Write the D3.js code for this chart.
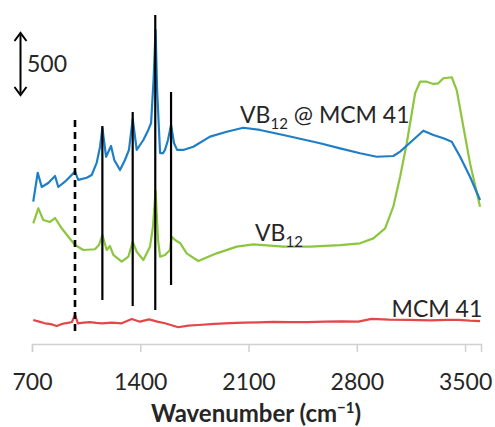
<!DOCTYPE html>
<html><head><meta charset="utf-8">
<script src="https://cdn.jsdelivr.net/npm/d3@7/dist/d3.min.js"></script>
<style>
html,body{margin:0;padding:0;background:#fff;}
svg{display:block;}
text{font-family:Lato,"Open Sans",sans-serif;fill:#262626;}
</style></head>
<body>
<script>
// ---- data (wavenumber cm^-1, intensity a.u.) ----
const blueWn = [708,737,763,805,849,870,913,978,999,1054,1086,1118,1140,1155,1179,1211,1232,1269,1301,1327,1351,1377,1420,1452,1470,1486,1499,1509,1528,1547,1560,1579,1599,1618,1638,1678,1743,1851,1959,2066,2174,2325,2498,2562,2692,2821,2929,3036,3080,3144,3230,3295,3360,3414,3468,3532,3597];
const blueVal = [1148,1381,1266,1298,1355,1266,1309,1390,1323,1341,1363,1460,1591,1742,1510,1597,1484,1403,1484,1565,1815,1565,1645,1726,1782,2129,2532,2048,1540,1540,1565,1645,1766,1621,1565,1565,1591,1672,1712,1744,1726,1685,1637,1619,1578,1538,1510,1516,1551,1623,1720,1685,1659,1631,1510,1349,1161];

const greenWn = [708,741,773,816,849,892,935,978,1032,1107,1133,1155,1183,1204,1226,1280,1323,1351,1377,1420,1463,1482,1499,1515,1528,1560,1592,1603,1625,1657,1700,1775,1894,2024,2131,2325,2498,2692,2821,2907,2983,3036,3080,3123,3177,3209,3252,3295,3327,3360,3414,3446,3489,3532,3597];
const greenVal = [973,1094,1000,984,1016,933,865,798,758,764,798,879,758,790,718,664,704,825,744,677,785,946,1234,839,704,718,758,865,839,815,731,669,731,785,804,785,785,798,812,852,933,1107,1349,1619,2022,2115,2115,2097,2102,2143,2151,2048,1752,1457,1107];

const redWn = [708,746,784,822,860,890,913,940,958,978,997,1035,1075,1115,1151,1215,1280,1345,1398,1457,1510,1560,1646,1710,1775,1880,1980,2070,2163,2260,2368,2480,2595,2700,2810,2895,3010,3133,3274,3380,3457,3530,3597];
const redVal = [194,180,167,160,145,160,167,172,177,234,167,172,177,170,167,172,167,202,180,199,180,167,135,148,153,162,169,172,175,178,177,176,180,182,180,202,196,194,190,195,194,188,185];

const markerWn   = [978, 1155, 1351, 1497, 1599];
const markerTop  = [1806, 1758, 1871, 2653, 2032];
const markerBot  = [89, 355, 306, 274, 476];
const markerDash = [true, false, false, false, false];

const xTicks = [700, 1400, 2100, 2800, 3500];
const scaleBarValue = 500;

const labels = [
  {main:"VB", sub:"12", rest:" @ MCM 41", wn:2045, v:1782},
  {main:"VB", sub:"12", rest:"", wn:2142, v:830},
  {main:"MCM 41", sub:"", rest:"", wn:3025, v:218}
];

// ---- layout ----
const W = 495, H = 427;
const svg = d3.select("body").append("svg").attr("width", W).attr("height", H);

const x = d3.scaleLinear().domain([700, 3603]).range([32, 481]);
const y = d3.scaleLinear().domain([0, 2774]).range([344, 0]);

// axis
const axis = d3.axisBottom(x).tickValues(xTicks).tickSize(8).tickPadding(22).tickFormat(d3.format("d"));
const gx = svg.append("g").attr("transform", "translate(0,344)").call(axis);
gx.select(".domain").attr("stroke", "#d0d0d0").attr("stroke-width", 1.5);
gx.selectAll(".tick line").attr("stroke", "#d0d0d0").attr("stroke-width", 1.5);
gx.selectAll(".tick text").attr("font-family", "Lato, sans-serif").attr("font-size", 23).attr("fill", "#262626");

// axis title
const title = svg.append("text").attr("x", 256).attr("y", 422).attr("text-anchor", "middle")
  .attr("font-size", 24).attr("font-weight", "bold");
title.append("tspan").text("Wavenumber (cm");
title.append("tspan").attr("font-size", 15).attr("dy", -9).text("\u22121");
title.append("tspan").attr("dy", 9).text(")");

// lines
const line = d3.line().x(d => x(d[0])).y(d => y(d[1]));
function drawSeries(wn, val, color) {
  svg.append("path").datum(wn.map((w, i) => [w, val[i]]))
    .attr("fill", "none").attr("stroke", color).attr("stroke-width", 2.2)
    .attr("stroke-linejoin", "round").attr("d", line);
}
drawSeries(redWn, redVal, "#e3474a");
drawSeries(greenWn, greenVal, "#8cc63f");
drawSeries(blueWn, blueVal, "#1f7fc6");

// marker lines
markerWn.forEach((w, i) => {
  svg.append("line").attr("x1", x(w)).attr("x2", x(w))
    .attr("y1", y(markerTop[i])).attr("y2", y(markerBot[i]))
    .attr("stroke", "#000").attr("stroke-width", markerDash[i] ? 2.6 : 2.2)
    .attr("stroke-dasharray", markerDash[i] ? "7,5" : null);
});

// scale bar
const sbTop = 2508, sbX = 20.5;
const yt = y(sbTop), yb = y(sbTop - scaleBarValue);
svg.append("line").attr("x1", sbX).attr("x2", sbX).attr("y1", yt + 2).attr("y2", yb - 2)
  .attr("stroke", "#000").attr("stroke-width", 2);
svg.append("path").attr("d", `M${sbX-6},${yt+8} L${sbX},${yt} L${sbX+6},${yt+8}`)
  .attr("fill", "none").attr("stroke", "#000").attr("stroke-width", 2);
svg.append("path").attr("d", `M${sbX-6},${yb-8} L${sbX},${yb} L${sbX+6},${yb-8}`)
  .attr("fill", "none").attr("stroke", "#000").attr("stroke-width", 2);
svg.append("text").attr("x", 27).attr("y", (yt + yb) / 2 + 8).attr("font-size", 23).text(scaleBarValue);

// labels
labels.forEach(l => {
  const t = svg.append("text").attr("x", x(l.wn)).attr("y", y(l.v)).attr("font-size", 23);
  t.append("tspan").text(l.main);
  if (l.sub) t.append("tspan").attr("font-size", 15).attr("dy", 6).text(l.sub);
  if (l.rest) t.append("tspan").attr("dy", -6).text(l.rest);
});
</script>
</body></html>
